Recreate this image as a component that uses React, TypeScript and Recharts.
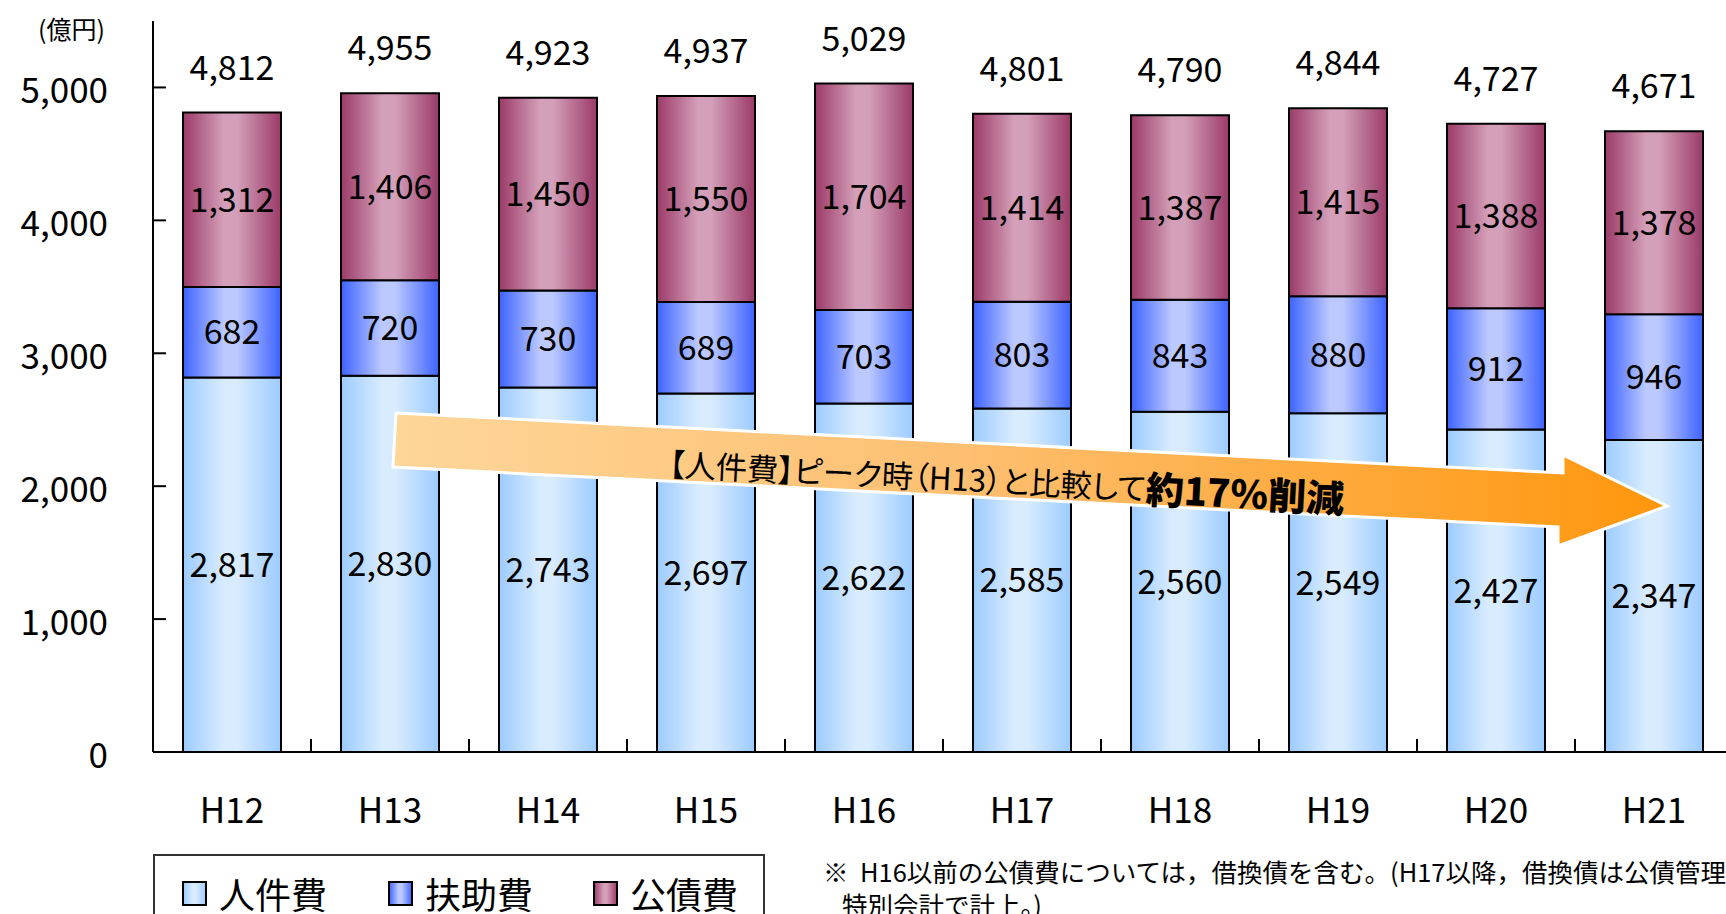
import { BarChart, Bar, XAxis, YAxis, LabelList } from 'recharts';

const years = ['H12', 'H13', 'H14', 'H15', 'H16', 'H17', 'H18', 'H19', 'H20', 'H21'];
const jinkenhi = [2817, 2830, 2743, 2697, 2622, 2585, 2560, 2549, 2427, 2347];
const fujohi = [682, 720, 730, 689, 703, 803, 843, 880, 912, 946];
const kosaihi = [1312, 1406, 1450, 1550, 1704, 1414, 1387, 1415, 1388, 1378];
const totals = [4812, 4955, 4923, 4937, 5029, 4801, 4790, 4844, 4727, 4671];
const yTicks = [0, 1000, 2000, 3000, 4000, 5000];

const rows = years.map((name, i) => ({
  name,
  jinkenhi: jinkenhi[i],
  fujohi: fujohi[i],
  kosaihi: kosaihi[i],
  total: totals[i],
}));

const FONT = '"Noto Sans CJK JP", "Noto Sans", sans-serif';
const CHART_W = 1733;
const AXIS_W = 153;
const BAND_HALF = (CHART_W - AXIS_W) / years.length / 2;
const fmt = (v: number) => v.toLocaleString('en-US');

function YTick(props: any) {
  const { x, y, payload } = props;
  return (
    <g>
      <line x1={x} x2={x + 13} y1={y} y2={y} stroke="#000" strokeWidth={2} />
      <text x={x - 45} y={y} textAnchor="end" dominantBaseline="central" fontSize={35} fill="#000">
        {fmt(payload.value)}
      </text>
    </g>
  );
}

function XTick(props: any) {
  const { x, y, payload } = props;
  return (
    <g>
      <line x1={x + BAND_HALF} x2={x + BAND_HALF} y1={y} y2={y - 13} stroke="#000" strokeWidth={2} />
      <text x={x} y={y + 55} textAnchor="middle" dominantBaseline="central" fontSize={35} fill="#000">
        {payload.value}
      </text>
    </g>
  );
}

function Grad({ id, edge, mid }: { id: string; edge: string; mid: string }) {
  return (
    <linearGradient id={id} x1="0" y1="0" x2="1" y2="0">
      <stop offset="0%" stopColor={edge} />
      <stop offset="42%" stopColor={mid} />
      <stop offset="55%" stopColor={mid} />
      <stop offset="100%" stopColor={edge} />
    </linearGradient>
  );
}

const legendItems = [
  { label: '人件費', fill: 'url(#lgJ)' },
  { label: '扶助費', fill: 'url(#lgF)' },
  { label: '公債費', fill: 'url(#lgK)' },
];

export default function App() {
  return (
    <div style={{ position: 'absolute', left: 0, top: 0, width: 1726, height: 914, overflow: 'hidden', background: '#fff', fontFamily: FONT }}>
      <BarChart width={CHART_W} height={914} data={rows} margin={{ top: 21, right: 0, left: 0, bottom: 102 }} barSize={98}>
        <defs>
          <Grad id="gJ" edge="#9ccbff" mid="#d9ecff" />
          <Grad id="gF" edge="#3d63ff" mid="#bcc9ff" />
          <Grad id="gK" edge="#9b3a68" mid="#d4a0b9" />
        </defs>
        <XAxis dataKey="name" height={60} axisLine={{ stroke: '#000', strokeWidth: 2 }} tickLine={false} tickSize={0} tickMargin={0} tick={<XTick />} interval={0} />
        <YAxis width={AXIS_W} domain={[0, 5500]} ticks={yTicks} axisLine={{ stroke: '#000', strokeWidth: 2 }} tickLine={false} tickSize={0} tickMargin={0} tick={<YTick />} interval={0} />
        <Bar dataKey="jinkenhi" stackId="a" fill="url(#gJ)" stroke="#000" strokeWidth={2} isAnimationActive={false}>
          <LabelList dataKey="jinkenhi" position="center" formatter={(v: any) => fmt(v)} fontSize={34} fill="#000" />
        </Bar>
        <Bar dataKey="fujohi" stackId="a" fill="url(#gF)" stroke="#000" strokeWidth={2} isAnimationActive={false}>
          <LabelList dataKey="fujohi" position="center" formatter={(v: any) => fmt(v)} fontSize={34} fill="#000" />
        </Bar>
        <Bar dataKey="kosaihi" stackId="a" fill="url(#gK)" stroke="#000" strokeWidth={2} isAnimationActive={false}>
          <LabelList dataKey="kosaihi" position="center" formatter={(v: any) => fmt(v)} fontSize={34} fill="#000" />
          <LabelList dataKey="total" position="top" offset={33} formatter={(v: any) => fmt(v)} fontSize={34} fill="#000" />
        </Bar>
      </BarChart>

      <div style={{ position: 'absolute', left: 38, top: 10, fontSize: 25, color: '#000' }}>(億円)</div>

      <svg width={1726} height={914} style={{ position: 'absolute', left: 0, top: 0, pointerEvents: 'none' }}>
        <defs>
          <linearGradient id="arrowG" gradientUnits="userSpaceOnUse" x1="393" y1="0" x2="1667" y2="0">
            <stop offset="0%" stopColor="#fed699" />
            <stop offset="45%" stopColor="#fdbf70" />
            <stop offset="100%" stopColor="#ff960c" />
          </linearGradient>
        </defs>
        <polygon
          points="396,413 1563,473 1563,455 1667,506 1558,546 1558,527 393,467"
          fill="url(#arrowG)"
          stroke="#fff"
          strokeWidth={3}
          strokeLinejoin="miter"
        />
        <text
          transform="rotate(2.9 669 462)"
          x={669}
          y={462}
          dominantBaseline="central"
          fill="#000"
          fontFamily={FONT}
          style={{ fontFeatureSettings: '"palt"' }}
        >
          <tspan fontSize={31.3}>【人件費】ピーク時（H13）と比較して</tspan>
          <tspan fontSize={38} fontWeight={900}>約17％削減</tspan>
        </text>
      </svg>

      <svg width={0} height={0} style={{ position: 'absolute' }}>
        <defs>
          <Grad id="lgJ" edge="#9ccbff" mid="#d9ecff" />
          <Grad id="lgF" edge="#3d63ff" mid="#bcc9ff" />
          <Grad id="lgK" edge="#9b3a68" mid="#d4a0b9" />
        </defs>
      </svg>
      <div style={{ position: 'absolute', left: 153, top: 854, width: 612, height: 90, border: '2px solid #333', boxSizing: 'border-box' }}>
        {legendItems.map((it, i) => (
          <div key={it.label} style={{ position: 'absolute', left: [27, 233, 438][i], top: 17, display: 'flex', alignItems: 'center' }}>
            <svg width={25} height={25}>
              <rect x={1} y={1} width={23} height={23} fill={it.fill} stroke="#000" strokeWidth={2} />
            </svg>
            <span style={{ fontSize: 36, marginLeft: 12, lineHeight: '40px' }}>{it.label}</span>
          </div>
        ))}
      </div>

      <div style={{ position: 'absolute', left: 823, top: 854, fontSize: 25.5, lineHeight: '33px', whiteSpace: 'nowrap' }}>
        <div>※&nbsp; H16以前の公債費については，借換債を含む。(H17以降，借換債は公債管理</div>
        <div style={{ paddingLeft: 19 }}>特別会計で計上。)</div>
      </div>
    </div>
  );
}
